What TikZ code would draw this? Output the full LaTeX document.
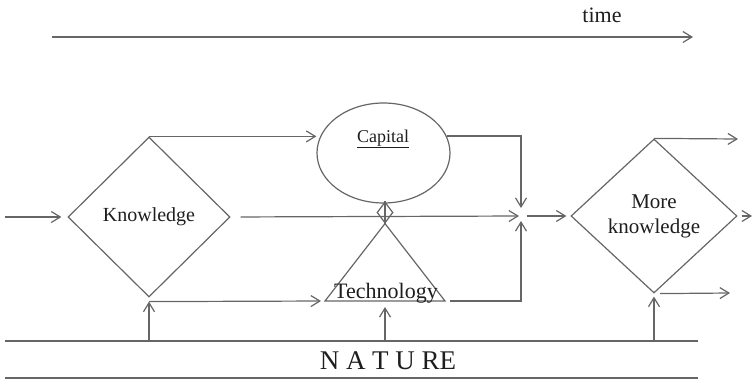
\documentclass[tikz,border=0pt]{standalone}
\usepackage{fontspec}
\setmainfont{Liberation Serif}
\newfontfamily\diagfont{Liberation Serif}
\usetikzlibrary{shapes.geometric,arrows.meta}
\definecolor{ink}{HTML}{1E1E1E}
\definecolor{wire}{HTML}{666666}
\tikzset{
  wireline/.style={draw=wire, line width=1.2pt},
  arr/.style={wireline, -{Straight Barb[length=9pt,width=11pt]}},
  dia/.style={diamond, draw=wire, line width=1.2pt, inner sep=0pt, text=ink, align=center},
  lbl/.style={text=ink, inner sep=0pt},
}
\begin{document}
\begin{tikzpicture}[x=1pt, y=-1pt]
  \useasboundingbox (0,0) rectangle (753,380);

  % time axis
  \coordinate (t0) at (52,37);
  \coordinate (t1) at (693,37);
  \draw[arr] (t0) -- (t1);
  \node[lbl, anchor=base, font=\diagfont\fontsize{22}{26}\selectfont] (time) at (602,23) {time};

  % main shapes
  \node[dia, minimum width=162pt, minimum height=160pt, font=\diagfont\fontsize{20}{24}\selectfont] (K) at (149,217) {Knowledge};
  \node[ellipse, draw=wire, line width=1.2pt, minimum width=133pt, minimum height=100pt, inner sep=0pt] (cap) at (383.5,153) {};
  \node[lbl, anchor=base, font=\diagfont\fontsize{18}{22}\selectfont] (caplbl) at (383,142) {\underline{Capital}};
  \node[dia, minimum width=16pt, minimum height=21pt] (sd) at (385,212.5) {};
  \draw[wireline] (sd.north) -- (sd.south);
  \coordinate (tl) at (325,301);
  \coordinate (tr) at (445,301);
  \coordinate (tb) at (385,301);
  \draw[wireline, line join=miter] (sd.south) -- (tl) -- (tr) -- cycle;
  \node[lbl, anchor=base, font=\diagfont\fontsize{22}{26}\selectfont] (tech) at (386,298) {Technology};
  \coordinate (J) at (521,216);
  \node[dia, minimum width=166pt, minimum height=154pt, font=\diagfont\fontsize{21}{25}\selectfont] (MK) at (654,216) {More\\knowledge};

  % nature band
  \coordinate (n0) at (5,341);
  \coordinate (n1) at (698,341);
  \coordinate (n2) at (5,378);
  \coordinate (n3) at (698,378);
  \draw[wireline] (n0) -- (n1);
  \draw[wireline] (n2) -- (n3);
  \node[lbl, anchor=base, font=\diagfont\fontsize{27}{32}\selectfont] (nat) at (388,369) {N A T U RE};

  % flows into and out of knowledge
  \coordinate (in0) at (5,217);
  \draw[arr, shorten >=6pt] (in0) -- (K.west);
  \draw[arr] (K.north) -- (cap.west |- K.north);
  \draw[arr, shorten <=10pt, shorten >=2pt] (K.east) -- (J);
  \draw[arr, shorten >=4pt] ([yshift=-4pt]K.south) -- (tl);
  \draw[arr] (K.south |- n0) -- ([yshift=-4pt]K.south);

  % technology and capital towards the junction
  \draw[arr, shorten >=6pt] (tb |- n0) -- (tb);
  \draw[arr, shorten >=5pt] ([xshift=5pt]tr) -| (J);
  \draw[arr, shorten >=8pt] (cap.15) -| (J);
  \draw[arr, shorten <=6pt, shorten >=4pt] (J) -- (MK.west);

  % outputs of more knowledge
  \coordinate (o1) at (738,139);
  \coordinate (o2) at (730,293);
  \coordinate (o3) at (752,216);
  \draw[arr] (MK.north) -- (o1);
  \draw[arr] ([xshift=6pt]MK.south) -- (o2);
  \draw[arr] ([xshift=4pt]MK.east) -- (o3);
  \draw[arr, shorten >=3pt] (MK.south |- n0) -- (MK.south);
\end{tikzpicture}
\end{document}
